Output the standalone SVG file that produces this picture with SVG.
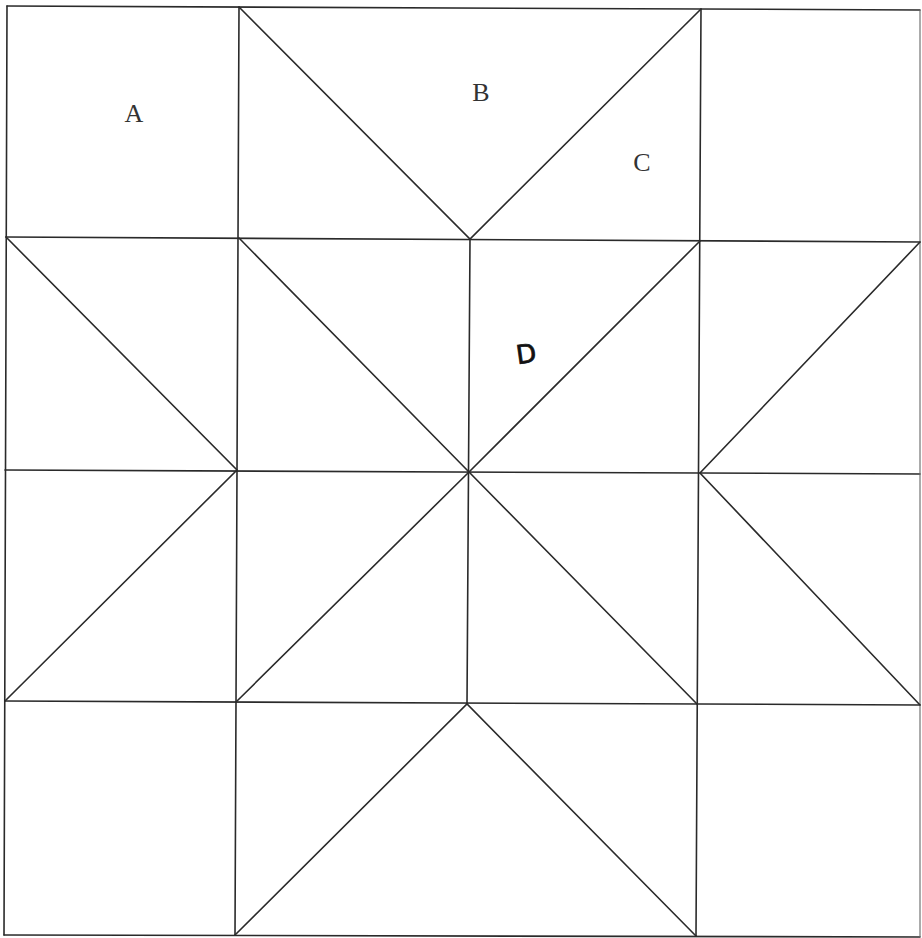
<svg xmlns="http://www.w3.org/2000/svg" width="922" height="938" viewBox="0 0 922 938">
<style>
.ln{stroke:#2a2a2a;stroke-width:1.6;fill:none;stroke-linecap:round}
.edge{stroke:#666;stroke-width:1.1;fill:none}
.lbl{font-family:"Liberation Serif","Times New Roman",serif;font-size:26px;fill:#333;text-anchor:middle}
.hand{font-family:"DejaVu Sans",sans-serif;font-size:26px;fill:#111;stroke:#111;stroke-width:0.8;text-anchor:middle}
</style>
<rect width="922" height="938" fill="#fff"/>
<g id="grid">
<path class="ln" d="M7,6 L920,10"/>
<path class="ln" d="M6,237 L920,242"/>
<path class="ln" d="M5,470 L920,474"/>
<path class="ln" d="M5,701 L920,705"/>
<path class="ln" d="M4,935 L920,937"/>
<path class="ln" d="M7,6 L4,935"/>
<path class="ln" d="M239,7 L235,935"/>
<path class="ln" d="M470,239 L467,704"/>
<path class="ln" d="M701,9 L696,936"/>
<path class="edge" d="M920,10 L920,937"/>
</g>
<g id="diagonals">
<path class="ln" d="M239,7 L470,239 L701,9"/>
<path class="ln" d="M6,237 L237,470 L5,701"/>
<path class="ln" d="M920,242 L700,473 L920,705"/>
<path class="ln" d="M239,238 L469,472 L697,704"/>
<path class="ln" d="M700,241 L469,472 L236,702"/>
<path class="ln" d="M235,935 L467,704 L696,936"/>
</g>
<g id="labels">
<text class="lbl" x="134" y="122">A</text>
<text class="lbl" x="481" y="101">B</text>
<text class="lbl" x="642" y="171">C</text>
<text class="hand" x="526" y="363" transform="rotate(-8 526 352)">D</text>
</g>
</svg>
